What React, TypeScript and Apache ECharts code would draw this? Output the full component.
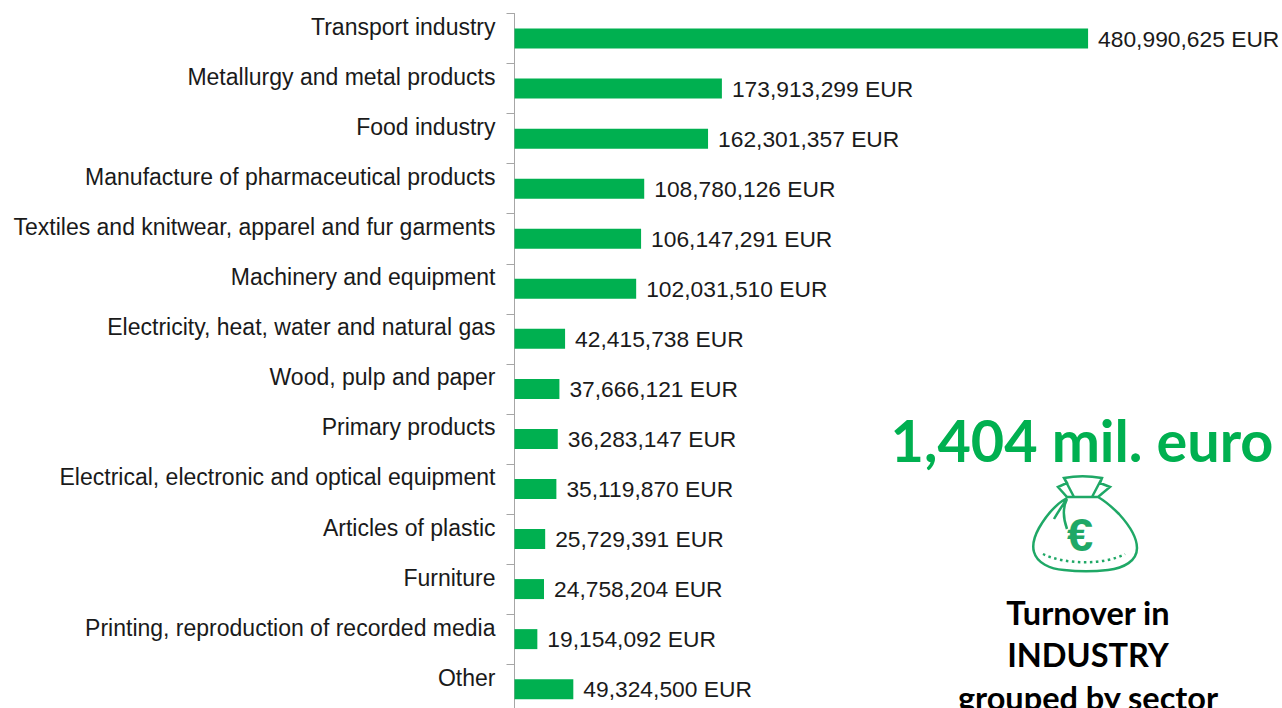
import React, { useEffect, useRef } from "react";
import * as echarts from "echarts";

const categories = [
  "Transport industry",
  "Metallurgy and metal products",
  "Food industry",
  "Manufacture of pharmaceutical products",
  "Textiles and knitwear, apparel and fur garments",
  "Machinery and equipment",
  "Electricity, heat, water and natural gas",
  "Wood, pulp and paper",
  "Primary products",
  "Electrical, electronic and optical equipment",
  "Articles of plastic",
  "Furniture",
  "Printing, reproduction of recorded media",
  "Other",
];
const turnover = [
  480990625, 173913299, 162301357, 108780126, 106147291, 102031510, 42415738,
  37666121, 36283147, 35119870, 25729391, 24758204, 19154092, 49324500,
];
const headline = "1,404 mil. euro";
const captionLines = ["Turnover in", "INDUSTRY", "grouped by sector"];

const bagPath =
  "M1067 498 C1056 504 1046 516 1039 528 C1034 537 1032 545 1034 552 C1037 563 1050 569 1064 570 C1078 571.5 1094 571.5 1108 570 C1124 568 1137 561 1137 548 C1137 537 1129 525 1119 514 C1112 507 1105 501 1098 497 " +
  "M1067 497 L1098 497 L1110 487 L1100 483 L1102 478 C1090 476 1075 476 1064 478 L1067 483 L1058 487 Z " +
  "M1064 478 L1074 497 M1102 478 L1092 497 " +
  "M1067 499 C1062 506 1058 512 1054 519 M1067 499 C1063 507 1063 518 1067 529";
echarts.graphic.registerShape("moneyBag", echarts.graphic.extendPath(bagPath as any, {}) as any);

export default function App() {
  const ref = useRef<HTMLDivElement>(null);
  useEffect(() => {
    const chart = echarts.init(ref.current!, undefined, { renderer: "svg" });
    chart.setOption({
      animation: false,
      backgroundColor: "#ffffff",
      grid: { left: 514.5, top: 13.5, width: 715.5, height: 700.7, containLabel: false },
      xAxis: { type: "value", min: 0, max: 600000000, show: false },
      yAxis: {
        type: "category",
        inverse: true,
        data: categories,
        axisLine: { show: true, lineStyle: { color: "#a6a6a6", width: 1 } },
        axisTick: { show: true, length: 8, lineStyle: { color: "#a6a6a6", width: 1 } },
        axisLabel: {
          interval: 0,
          margin: 19,
          color: "#1a1a1a",
          fontFamily: "Liberation Sans",
          fontSize: 23,
          verticalAlign: "bottom",
        },
        splitLine: { show: false },
      },
      series: [
        {
          type: "bar",
          data: turnover,
          barWidth: 20,
          itemStyle: { color: "#00b050" },
          label: {
            show: true,
            position: "right",
            distance: 10,
            color: "#1a1a1a",
            fontFamily: "Liberation Sans",
            fontSize: 22.8,
            formatter: (p: any) => `${Number(p.value).toLocaleString("en-US")} EUR`,
          },
        },
      ],
      graphic: [
        {
          type: "text",
          x: 1082,
          y: 439,
          style: {
            text: headline,
            fontFamily: "Lato",
            fontWeight: "bold",
            fontSize: 57.6,
            fill: "#00b050",
            align: "center",
            verticalAlign: "middle",
          },
        },
        {
          type: "moneyBag",
          style: { fill: "none", stroke: "#1fa866", lineWidth: 2.5 },
        },
        {
          type: "bezierCurve",
          shape: { x1: 1043, y1: 554, cpx1: 1065, cpy1: 565, cpx2: 1105, cpy2: 565, x2: 1125, y2: 554 },
          style: { stroke: "#1fa866", fill: "none", lineWidth: 2.5, lineDash: [2.5, 3.5] },
        },
        {
          type: "text",
          x: 1080,
          y: 534,
          style: {
            text: "€",
            fontFamily: "Liberation Sans",
            fontWeight: "bold",
            fontSize: 47,
            fill: "#1fa866",
            align: "center",
            verticalAlign: "middle",
          },
        },
        ...captionLines.map((line, i) => ({
          type: "text",
          x: 1088,
          y: 612 + i * 42.5,
          style: {
            text: line,
            fontFamily: "Lato",
            fontWeight: "bold",
            fontSize: 32.5,
            fill: "#000000",
            align: "center",
            verticalAlign: "middle",
          },
        })),
      ],
    });
    return () => chart.dispose();
  }, []);
  return (
    <div style={{ position: "fixed", left: 0, top: 0, width: 1282, height: 708, overflow: "hidden" }}>
      <div ref={ref} style={{ width: 1282, height: 724 }} />
    </div>
  );
}
